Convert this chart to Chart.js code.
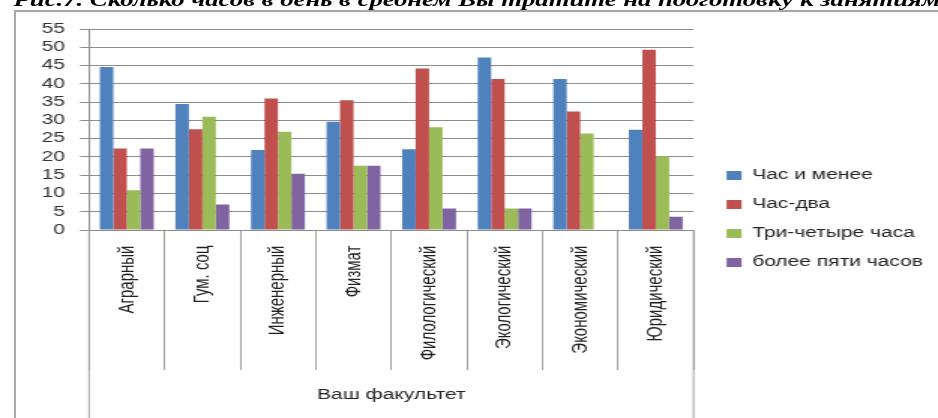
<!DOCTYPE html>
<html lang="ru">
<head>
<meta charset="utf-8">
<title>Рис.7</title>
<script src="https://cdn.jsdelivr.net/npm/chart.js@4.4.1/dist/chart.umd.min.js"></script>
<style>
  html, body { margin: 0; padding: 0; background: #fff; overflow: hidden; }
  body { width: 938px; height: 418px; position: relative; }
  /* cadre gris de la zone du graphique */
  #cadre { position: absolute; left: 14px; top: 10px; width: 1000px; height: 500px;
           border-left: 2px solid #a8a8a8; border-top: 2px solid #a8a8a8; }
  /* l'original est étiré horizontalement : on dessine à 625 px puis on étire */
  #etire { position: absolute; left: 0; top: 0; width: 625px; height: 418px;
           transform: scaleX(1.5008); transform-origin: 0 0; }
  #titre { position: absolute; left: 9px; top: -10px; white-space: nowrap; line-height: normal;
           font: italic bold 17.8px "Liberation Serif", "DejaVu Serif", serif; color: #000; }
  #graphique { position: absolute; left: 0; top: 0; width: 625px; height: 418px; }
</style>
</head>
<body>
<div id="cadre"></div>
<div id="etire">
  <div id="titre">Рис.7. Сколько часов в день в среднем Вы тратите на подготовку к занятиям</div>
  <canvas id="graphique" width="625" height="418"></canvas>
</div>
<script>
// Données
const facultes = ["Аграрный", "Гум. соц", "Инженерный", "Физмат", "Филологический", "Экологический", "Экономический", "Юридический"];
const nomsSeries = ["Час и менее", "Час-два", "Три-четыре часа", "более пяти часов"];
const heureEtMoins = [44.6, 34.5, 21.9, 29.6, 22.1, 47.2, 41.3, 27.4];
const uneDeuxHeures = [22.3, 27.6, 36.0, 35.5, 44.2, 41.3, 32.4, 49.3];
const troisQuatreHeures = [10.9, 31.0, 26.9, 17.6, 28.1, 5.9, 26.4, 20.1];
const plusDeCinqHeures = [22.3, 7.0, 15.4, 17.6, 5.9, 5.9, 0, 3.6];
const couleurs = ["#4F81BD", "#C0504D", "#9BBB59", "#8064A2"];
const titreAxeX = "Ваш факультет";

const echelle = 938 / 625;      // étirement horizontal de l'image

// Lignes longues à gauche et à droite de l'axe des catégories
const cadreAxe = {
    id: "cadreAxe",
    afterDraw(chart) {
        const x = chart.scales.x;
        const ctx = chart.ctx;
        ctx.save();
        ctx.strokeStyle = "#a0a0a0";
        ctx.lineWidth = 1;
        ctx.beginPath();
        ctx.moveTo(x.left, x.top);
        ctx.lineTo(x.left, chart.height);
        ctx.moveTo(x.right, x.top);
        ctx.lineTo(x.right, chart.height);
        ctx.stroke();
        ctx.restore();
    }
};

Chart.defaults.font.family = "'Liberation Sans', Arial, sans-serif";
Chart.defaults.color = "#222";

const series = [heureEtMoins, uneDeuxHeures, troisQuatreHeures, plusDeCinqHeures];

const ctx = document.getElementById("graphique").getContext("2d");
new Chart(ctx, {
    type: "bar",
    data: {
        labels: facultes,
        datasets: series.map((valeurs, i) => ({
            label: nomsSeries[i],
            data: valeurs,
            backgroundColor: couleurs[i],
            borderWidth: 0,
            xAxisID: "x",
            yAxisID: "y",
            categoryPercentage: 0.713,
            barPercentage: 1
        }))
    },
    options: {
        responsive: false,
        animation: false,
        devicePixelRatio: 1,
        layout: { padding: { top: 20, left: 0, right: 0, bottom: 0 } },
        plugins: {
            legend: {
                display: true,
                position: "right",
                maxWidth: 200,
                labels: {
                    boxWidth: 10,
                    boxHeight: 9,
                    padding: 15,
                    color: "#222",
                    font: { size: 14 }
                }
            },
            tooltip: { enabled: false }
        },
        scales: {
            x: {
                grid: { display: true, drawOnChartArea: false, offset: true, tickLength: 140, color: "#a0a0a0" },
                border: { display: true, color: "#8c8c8c" },
                ticks: {
                    autoSkip: false,
                    minRotation: 90,
                    maxRotation: 90,
                    padding: -124.5,
                    color: "#222",
                    font: { size: 15 }
                },
                title: {
                    display: true,
                    text: titreAxeX,
                    color: "#222",
                    font: { size: 14 },
                    padding: { top: 0, bottom: 14 }
                },
                afterFit(s) { s.height = 418 - 230; }
            },
            y: {
                min: 0,
                max: 55,
                ticks: { stepSize: 5, autoSkip: false, padding: 10, color: "#333", font: { size: 14 } },
                grid: { color: "#8c8c8c", tickLength: 6 },
                border: { display: true, color: "#8c8c8c" },
                afterFit(s) { s.width = 89 / echelle; }
            },
            // axes vides qui ne servent qu'à placer la zone de tracé
            haut: {
                type: "linear",
                position: "top",
                grid: { display: false },
                border: { display: false },
                ticks: { display: false },
                afterFit(s) { s.height = 9; }
            },
            droite: {
                type: "linear",
                position: "right",
                grid: { display: false },
                border: { display: false },
                ticks: { display: false },
                afterFit(s) { s.width = 7; }
            }
        }
    },
    plugins: [cadreAxe]
});
</script>
</body>
</html>
